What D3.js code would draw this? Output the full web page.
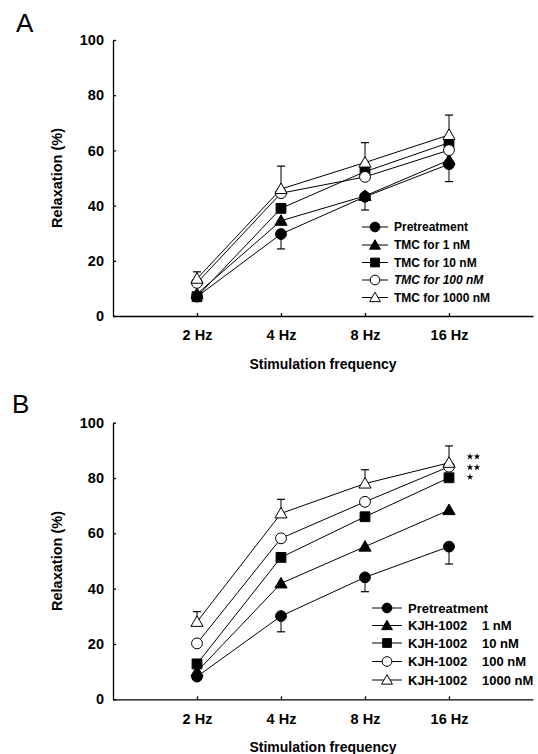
<!DOCTYPE html>
<html>
<head>
<meta charset="utf-8">
<script src="https://cdn.jsdelivr.net/npm/d3@7"></script>
<style>
  body { margin: 0; background: #fff; }
  text { font-family: "Liberation Sans", Arial, sans-serif; fill: #000; }
</style>
</head>
<body>
<div class="chart"></div>
<script>
const freqs = ['2 Hz', '4 Hz', '8 Hz', '16 Hz']
const yTicks = [0, 20, 40, 60, 80, 100]

// panel A
const seriesA = ['Pretreatment', 'TMC for 1 nM', 'TMC for 10 nM', 'TMC for 100 nM', 'TMC for 1000 nM']
const pretreatA = [7, 29.7, 43.2, 55]
const tmc1 = [8, 34.5, 43.5, 56.5]
const tmc10 = [7, 39, 52.3, 62.8]
const tmc100 = [12, 44.5, 50.4, 60.1]
const tmc1000 = [13.5, 46, 55.6, 65.6]
const errPreA = [0, 5.4, 4.8, 6.3]
const errTmc1000 = [2.5, 8.3, 7.2, 7.2]

// panel B
const seriesB = ['Pretreatment', 'KJH-1002', 'KJH-1002', 'KJH-1002', 'KJH-1002']
const doseB = ['', '1 nM', '10 nM', '100 nM', '1000 nM']
const pretreatB = [8.2, 30.1, 44.1, 55.2]
const kjh1 = [10, 41.9, 55.2, 68.4]
const kjh10 = [12.8, 51.3, 66, 80.1]
const kjh100 = [20.2, 58.2, 71.4, 84.1]
const kjh1000 = [28, 67.2, 78, 85.5]
const errPreB = [0, 5.7, 5.2, 6.3]
const errKjh1000 = [3.7, 5.1, 5, 6.1]
const stars = [2, 2, 1]   // number of significance stars per row

const symbols = ['circle', 'triangle', 'square', 'circle', 'triangle']
const filled = [true, true, true, false, false]

const svg = d3.select('.chart').append('svg')
    .attr('width', 538)
    .attr('height', 754)

function marker(g, i, x, y, s) {
    const type = symbols[i]
    const sym = type == 'circle' ? d3.symbolCircle : type == 'square' ? d3.symbolSquare : d3.symbolTriangle
    const size = type == 'circle' ? 92 * s : type == 'square' ? 96 * s : 64 * s
    const dy = type == 'triangle' ? 1 : 0
    g.append('path')
        .attr('d', d3.symbol().type(sym).size(size))
        .attr('transform', `translate(${x},${y + dy})`)
        .attr('fill', filled[i] ? '#000' : '#fff')
        .attr('stroke', '#000')
        .attr('stroke-width', 1)
}

function drawPanel(p) {
    const g = svg.append('g')

    const xScale = d3.scalePoint()
        .domain(freqs)
        .range([113, 533])
        .padding(1)

    const yScale = d3.scaleLinear()
        .domain([0, 100])
        .range([p.bottom, p.top])

    // AXES
    const yAxis = d3.axisLeft(yScale)
        .tickValues(yTicks)
        .tickSizeInner(-3)
        .tickSizeOuter(0)
        .tickPadding(9)

    const xAxis = d3.axisBottom(xScale)
        .tickSizeInner(-3)
        .tickSizeOuter(0)
        .tickPadding(14)

    const ya = g.append('g')
        .attr('transform', 'translate(113,0)')
        .call(yAxis)
    const xa = g.append('g')
        .attr('transform', `translate(0,${p.bottom})`)
        .call(xAxis)

    ya.selectAll('path, line').attr('stroke', '#000').attr('stroke-width', 1.3)
    xa.selectAll('path, line').attr('stroke', '#000').attr('stroke-width', 1.3)
    ya.selectAll('text').attr('font-size', 14.5).attr('font-weight', 'bold')
        .attr('font-family', '"Liberation Sans", Arial, sans-serif')
    xa.selectAll('text').attr('font-size', 14.5).attr('font-weight', 'bold')
        .attr('font-family', '"Liberation Sans", Arial, sans-serif')

    g.append('text')
        .attr('transform', `translate(62,${(p.top + p.bottom) / 2}) rotate(-90)`)
        .attr('text-anchor', 'middle')
        .attr('font-size', 14.5)
        .attr('font-weight', 'bold')
        .text('Relaxation (%)')

    g.append('text')
        .attr('x', 323)
        .attr('y', p.bottom + 53)
        .attr('text-anchor', 'middle')
        .attr('font-size', 14)
        .attr('font-weight', 'bold')
        .text('Stimulation frequency')

    g.append('text')
        .attr('x', p.letterX)
        .attr('y', p.letterY)
        .attr('font-size', 26)
        .text(p.letter)

    const line = d3.line()
        .x((d, i) => xScale(freqs[i]))
        .y(d => yScale(d))

    // error bars
    p.errors.forEach(e => {
        const vals = p.data[e.series]
        vals.forEach((v, i) => {
            if (!e.err[i]) return
            const x = xScale(freqs[i])
            const y2 = yScale(v + e.dir * e.err[i])
            g.append('line')
                .attr('x1', x).attr('x2', x)
                .attr('y1', yScale(v)).attr('y2', y2)
                .attr('stroke', '#000').attr('stroke-width', 1)
            g.append('line')
                .attr('x1', x - 4).attr('x2', x + 4)
                .attr('y1', y2).attr('y2', y2)
                .attr('stroke', '#000').attr('stroke-width', 1.2)
        })
    })

    p.data.forEach(vals => {
        g.append('path')
            .datum(vals)
            .attr('d', line)
            .attr('fill', 'none')
            .attr('stroke', '#000')
            .attr('stroke-width', 1)
    })

    p.data.forEach((vals, s) => {
        vals.forEach((v, i) => marker(g, s, xScale(freqs[i]), yScale(v), 1))
    })

    // legend
    p.names.forEach((name, i) => {
        const y = p.legY[i]
        g.append('line')
            .attr('x1', p.legX).attr('x2', p.legX + p.legW)
            .attr('y1', y).attr('y2', y)
            .attr('stroke', '#000').attr('stroke-width', 1)
        marker(g, i, p.legX + p.legW / 2, y, 0.8)
        g.append('text')
            .attr('x', p.legX + p.legW + 6)
            .attr('y', y)
            .attr('dy', '0.36em')
            .attr('font-size', p.legFont)
            .attr('font-weight', 'bold')
            .attr('font-style', p.italic && p.italic[i] ? 'italic' : 'normal')
            .text(name)
        if (p.doses && p.doses[i]) {
            g.append('text')
                .attr('x', 482)
                .attr('y', y)
                .attr('dy', '0.36em')
                .attr('font-size', p.legFont)
                .attr('font-weight', 'bold')
                .text(p.doses[i])
        }
    })
    return { g, xScale, yScale }
}

drawPanel({
    top: 40, bottom: 316, letter: 'A', letterX: 16, letterY: 32,
    data: [pretreatA, tmc1, tmc10, tmc100, tmc1000],
    errors: [{ series: 4, err: errTmc1000, dir: 1 }, { series: 0, err: errPreA, dir: -1 }],
    names: seriesA, italic: [false, false, false, true, false], legFont: 12,
    legX: 362, legW: 26, legY: [227, 245, 262.5, 280, 297.5]
})

const pb = drawPanel({
    top: 422.7, bottom: 699.3, letter: 'B', letterX: 12, letterY: 413,
    data: [pretreatB, kjh1, kjh10, kjh100, kjh1000],
    errors: [{ series: 4, err: errKjh1000, dir: 1 }, { series: 0, err: errPreB, dir: -1 }],
    names: seriesB, doses: doseB, legFont: 13,
    legX: 372, legW: 30, legY: [608, 625.5, 643, 661.5, 680]
})

// significance marks
const starRowY = [456.7, 467.3, 477]
stars.forEach((n, r) => {
    d3.range(n).forEach(k => {
        pb.g.append('path')
            .attr('d', d3.symbol().type(d3.symbolStar).size(14))
            .attr('transform', `translate(${470 + k * 7},${starRowY[r]})`)
            .attr('fill', '#000')
    })
})
</script>
</body>
</html>
